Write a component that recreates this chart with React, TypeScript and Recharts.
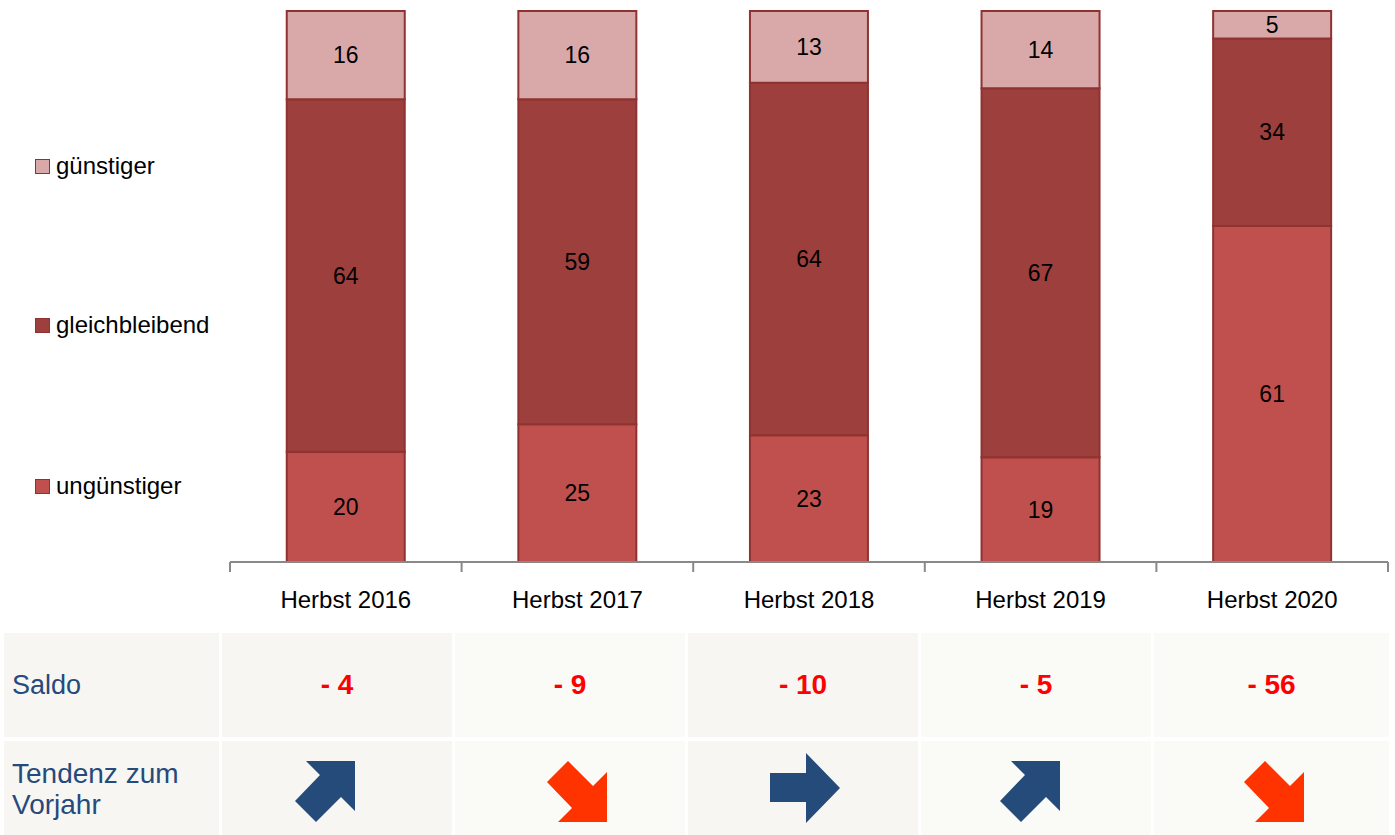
import { BarChart, Bar, XAxis, YAxis, LabelList } from "recharts"

const categories = ["Herbst 2016", "Herbst 2017", "Herbst 2018", "Herbst 2019", "Herbst 2020"]
const unguenstiger = [20, 25, 23, 19, 61]
const gleichbleibend = [64, 59, 64, 67, 34]
const guenstiger = [16, 16, 13, 14, 5]
const saldo = [-4, -9, -10, -5, -56]
const tendenz = ["up", "down", "right", "up", "down"]

const COLORS = {
    unguenstiger: "#C0504D",
    gleichbleibend: "#9D3F3D",
    guenstiger: "#D9A9A9",
    border: "#8E3331",
}

const CHART_W = 1395
const CHART_H = 625
const MARGIN = { top: 11, right: 7, left: 230, bottom: 0 }
const BAND = (CHART_W - MARGIN.left - MARGIN.right) / categories.length
const LABEL_OFFSET = 29
const FONT = "'Liberation Sans', Arial, sans-serif"

const data = categories.map((name, i) => ({
    name,
    unguenstiger: unguenstiger[i],
    gleichbleibend: gleichbleibend[i],
    guenstiger: guenstiger[i],
}))

const legendItems = [
    { label: "günstiger", color: COLORS.guenstiger, top: 166 },
    { label: "gleichbleibend", color: COLORS.gleichbleibend, top: 325 },
    { label: "ungünstiger", color: COLORS.unguenstiger, top: 486 },
]

function AxisTick(props: any) {
    const { x, y, payload, index } = props
    const axisY = y - LABEL_OFFSET
    const last = index === categories.length - 1
    return (
        <g>
            <line x1={x - BAND / 2} y1={axisY} x2={x - BAND / 2} y2={axisY + 10} stroke="#898989" strokeWidth={2} />
            {last && (
                <line x1={x + BAND / 2} y1={axisY} x2={x + BAND / 2} y2={axisY + 10} stroke="#898989" strokeWidth={2} />
            )}
            <text x={x} y={y} dy="0.71em" textAnchor="middle" fontSize={24} fill="#000" fontFamily={FONT}>
                {payload.value}
            </text>
        </g>
    )
}

function Arrow({ dir }: { dir: string }) {
    if (dir === "right") {
        return (
            <svg width={70} height={70} viewBox="0 0 70 70">
                <polygon points="0,20 36,20 36,0 70,35 36,70 36,49 0,49" fill="#244B79" />
            </svg>
        )
    }
    if (dir === "up") {
        return (
            <svg width={60} height={61} viewBox="0 0 60 61">
                <polygon points="11,0 60,0 60,50 46,36 21,61 0,40 25,14" fill="#244B79" />
            </svg>
        )
    }
    return (
        <svg width={60} height={61} viewBox="0 0 60 61">
            <polygon points="11,61 60,61 60,11 46,25 21,0 0,21 25,47" fill="#FF3300" />
        </svg>
    )
}

const CELL_BG = ["#F7F6F2", "#F7F6F2", "#FAFAF6", "#F7F6F2", "#FAFAF6", "#FAFAF6"]
const COL_W = [215, 230, 230, 230, 230, 235]
// small horizontal nudges of the arrows inside their cells, as in the original slide
const ARROW_SHIFT = [-12, 7, 2, -6, 2]

export default function App() {
    const cellStyle = (i: number): React.CSSProperties => ({
        background: CELL_BG[i],
        display: "flex",
        alignItems: "center",
        justifyContent: i === 0 ? "flex-start" : "center",
        paddingLeft: i === 0 ? 8 : 0,
        boxSizing: "border-box",
    })

    return (
        <div style={{ position: "absolute", left: 0, top: 0, width: CHART_W, height: 835, overflow: "hidden", background: "#fff", fontFamily: FONT }}>
            <BarChart width={CHART_W} height={CHART_H} data={data} margin={MARGIN} barCategoryGap="24.5%">
                <YAxis hide domain={[0, 100]} />
                <XAxis
                    dataKey="name"
                    height={CHART_H - 562}
                    axisLine={{ stroke: "#898989", strokeWidth: 2 }}
                    tickLine={false}
                    tickSize={0}
                    tickMargin={LABEL_OFFSET}
                    tick={<AxisTick />}
                    interval={0}
                />
                <Bar dataKey="unguenstiger" stackId="a" fill={COLORS.unguenstiger} stroke={COLORS.border} strokeWidth={2} isAnimationActive={false}>
                    <LabelList dataKey="unguenstiger" position="center" fill="#000" fontSize={23} fontFamily={FONT} />
                </Bar>
                <Bar dataKey="gleichbleibend" stackId="a" fill={COLORS.gleichbleibend} stroke={COLORS.border} strokeWidth={2} isAnimationActive={false}>
                    <LabelList dataKey="gleichbleibend" position="center" fill="#000" fontSize={23} fontFamily={FONT} />
                </Bar>
                <Bar dataKey="guenstiger" stackId="a" fill={COLORS.guenstiger} stroke={COLORS.border} strokeWidth={2} isAnimationActive={false}>
                    <LabelList dataKey="guenstiger" position="center" fill="#000" fontSize={23} fontFamily={FONT} />
                </Bar>
            </BarChart>

            {legendItems.map((item) => (
                <div key={item.label} style={{ position: "absolute", left: 35, top: item.top - 15, height: 30, display: "flex", alignItems: "center" }}>
                    <span style={{ width: 13, height: 13, background: item.color, border: `1.5px solid ${COLORS.border}`, marginRight: 6 }} />
                    <span style={{ fontSize: 24, color: "#000" }}>{item.label}</span>
                </div>
            ))}

            <div
                style={{
                    position: "absolute",
                    left: 4,
                    top: 633,
                    display: "grid",
                    gridTemplateColumns: COL_W.map((w) => `${w}px`).join(" "),
                    gridTemplateRows: "104px 100px",
                    columnGap: 3,
                    rowGap: 4,
                }}
            >
                <div style={{ ...cellStyle(0), color: "#254A7B", fontSize: 27 }}>Saldo</div>
                {saldo.map((v, i) => (
                    <div key={`s-${i}`} style={{ ...cellStyle(i + 1), color: "#FF0000", fontSize: 28, fontWeight: "bold" }}>
                        {`- ${Math.abs(v)}`}
                    </div>
                ))}
                <div style={{ ...cellStyle(0), color: "#254A7B", fontSize: 28, lineHeight: "31px", alignItems: "flex-start", paddingTop: 17 }}>
                    Tendenz zum
                    <br />
                    Vorjahr
                </div>
                {tendenz.map((d, i) => (
                    <div key={`t-${i}`} style={{ ...cellStyle(i + 1), alignItems: "flex-start", paddingTop: d === "right" ? 12 : 20 }}>
                        <div style={{ position: "relative", left: ARROW_SHIFT[i] }}>
                            <Arrow dir={d} />
                        </div>
                    </div>
                ))}
            </div>
        </div>
    )
}
